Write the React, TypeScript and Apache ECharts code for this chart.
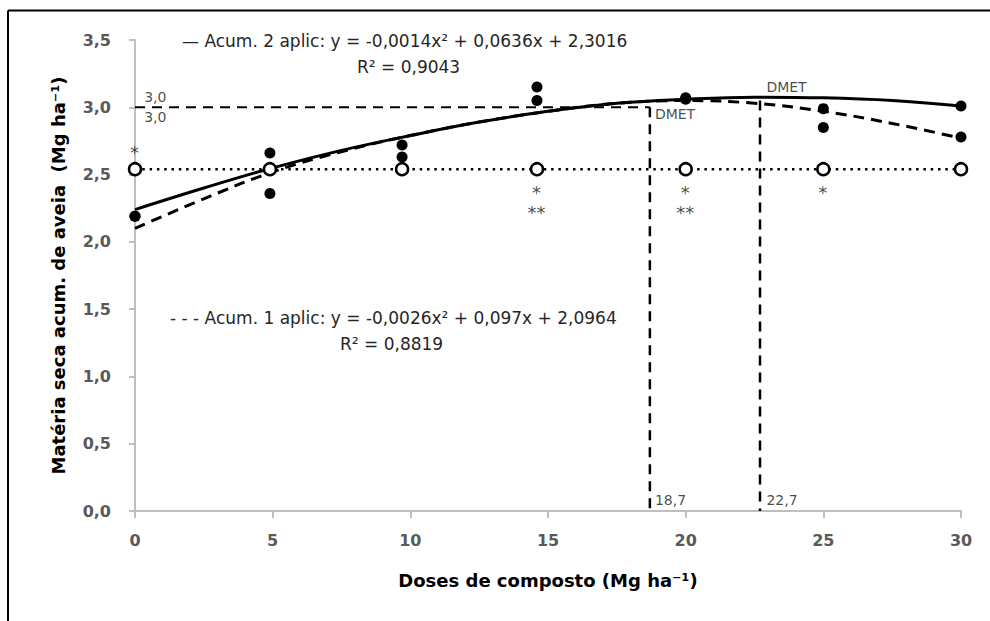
import React, { useEffect, useRef } from 'react';
import * as echarts from 'echarts';

// Observed doses (Mg ha-1)
const doses = [0, 4.9, 9.7, 14.6, 20, 25, 30];
// Observed dry matter (filled dots)
const acum2Obs = [2.19, 2.66, 2.72, 3.15, 3.07, 2.99, 3.01];
const acum1Obs = [2.19, 2.36, 2.63, 3.05, 3.06, 2.85, 2.78];
// Reference (open circles, dotted line)
const refLevel = [2.54, 2.54, 2.54, 2.54, 2.54, 2.54, 2.54];
// Fitted curves
const fitX = [0, 2.5, 5, 7.5, 10, 12.5, 15, 17.5, 20, 22.5, 25, 27.5, 30];
const fitAcum2 = [2.24, 2.4, 2.55, 2.68, 2.79, 2.89, 2.97, 3.03, 3.06, 3.075, 3.07, 3.05, 3.01];
const fitAcum1 = [2.1, 2.32, 2.52, 2.67, 2.79, 2.89, 2.97, 3.03, 3.05, 3.03, 2.97, 2.88, 2.77];
// DMET (dose of maximum technical efficiency)
const dmetX = [18.7, 22.7];
const dmetTop = [3.0, 3.05];
const maxLevel = 3.0;

// Annotations (data coordinates)
const annotations = [
  { x: 0, y: 2.66, text: '*', align: 'center', size: 18 },
  { x: 14.6, y: 2.36, text: '*', align: 'center', size: 18 },
  { x: 14.6, y: 2.215, text: '**', align: 'center', size: 18 },
  { x: 20, y: 2.36, text: '*', align: 'center', size: 18 },
  { x: 20, y: 2.215, text: '**', align: 'center', size: 18 },
  { x: 25, y: 2.36, text: '*', align: 'center', size: 18 },
  { x: 0.35, y: 3.075, text: '3,0', align: 'left', size: 14 },
  { x: 0.35, y: 2.925, text: '3,0', align: 'left', size: 14 },
  { x: 18.9, y: 2.95, text: 'DMET', align: 'left', size: 14 },
  { x: 22.95, y: 3.15, text: 'DMET', align: 'left', size: 14 },
  { x: 18.9, y: 0.08, text: '18,7', align: 'left', size: 14 },
  { x: 22.95, y: 0.08, text: '22,7', align: 'left', size: 14 },
];

const eq2 = '— Acum. 2 aplic: y = -0,0014x² + 0,0636x + 2,3016';
const r2a = 'R² = 0,9043';
const eq1 = '- - - Acum. 1 aplic: y = -0,0026x² + 0,097x + 2,0964';
const r2b = 'R² = 0,8819';

const FONT = 'DejaVu Sans';
const fmt = (v: number) => v.toFixed(1).replace('.', ',');

export default function App() {
  const ref = useRef<HTMLDivElement>(null);
  useEffect(() => {
    const chart = echarts.init(ref.current!, null, { renderer: 'svg' });
    const axisColor = '#bfbfbf';
    const eqStyle = { fontSize: 17, fontFamily: FONT, fill: '#262626', verticalAlign: 'middle', align: 'left' };
    const option: any = {
      animation: false,
      backgroundColor: '#fff',
      textStyle: { fontFamily: FONT },
      grid: { left: 135, right: 29, top: 40, bottom: 110 },
      xAxis: {
        type: 'value',
        min: 0,
        max: 30,
        interval: 5,
        splitLine: { show: false },
        axisLine: { show: true, lineStyle: { color: axisColor, width: 2 } },
        axisTick: { show: true, length: 7, lineStyle: { color: axisColor, width: 2 } },
        axisLabel: { color: '#595959', fontWeight: 'bold', fontSize: 16, fontFamily: FONT, margin: 21 },
        name: 'Doses de composto (Mg ha⁻¹)',
        nameLocation: 'middle',
        nameGap: 60,
        nameTextStyle: { color: '#000', fontWeight: 'bold', fontSize: 18, fontFamily: FONT },
      },
      yAxis: {
        type: 'value',
        min: 0,
        max: 3.5,
        interval: 0.5,
        splitLine: { show: false },
        axisLine: { show: true, lineStyle: { color: axisColor, width: 2 } },
        axisTick: { show: true, length: 6, lineStyle: { color: axisColor, width: 2 } },
        axisLabel: { color: '#595959', fontWeight: 'bold', fontSize: 16, fontFamily: FONT, margin: 24, formatter: fmt },
        name: 'Matéria seca acum. de aveia  (Mg ha⁻¹)',
        nameLocation: 'middle',
        nameGap: 68,
        nameRotate: 90,
        nameTextStyle: { color: '#000', fontWeight: 'bold', fontSize: 18, fontFamily: FONT },
      },
      graphic: [
        { type: 'line', shape: { x1: 8, y1: 10.5, x2: 990, y2: 10.5 }, style: { stroke: '#000', lineWidth: 2 } },
        { type: 'line', shape: { x1: 8, y1: 10.5, x2: 8, y2: 621 }, style: { stroke: '#000', lineWidth: 2 } },
        { type: 'text', x: 182, y: 41, style: { ...eqStyle, text: eq2 } },
        { type: 'text', x: 357, y: 67, style: { ...eqStyle, text: r2a } },
        { type: 'text', x: 170, y: 318, style: { ...eqStyle, text: eq1 } },
        { type: 'text', x: 340, y: 344, style: { ...eqStyle, text: r2b } },
      ],
      series: [
        {
          name: 'maxLine',
          type: 'line',
          data: [[0, maxLevel], [dmetX[0], maxLevel]],
          symbol: 'none',
          lineStyle: { color: '#000', width: 2, type: [10, 7] },
          z: 2,
        },
        ...dmetX.map((dx, i) => ({
          name: 'dmet' + i,
          type: 'line',
          data: [[dx, dmetTop[i]], [dx, 0]],
          symbol: 'none',
          lineStyle: { color: '#000', width: 2.5, type: [10, 7] },
          z: 2,
        })),
        {
          name: 'Acum. 2 aplic (fit)',
          type: 'line',
          smooth: 0.4,
          data: fitX.map((x, i) => [x, fitAcum2[i]]),
          symbol: 'none',
          lineStyle: { color: '#000', width: 3 },
          z: 3,
        },
        {
          name: 'Acum. 1 aplic (fit)',
          type: 'line',
          smooth: 0.4,
          data: fitX.map((x, i) => [x, fitAcum1[i]]),
          symbol: 'none',
          lineStyle: { color: '#000', width: 3, type: [11, 7] },
          z: 3,
        },
        {
          name: 'ref',
          type: 'line',
          data: doses.map((x, i) => [x, refLevel[i]]),
          symbol: 'circle',
          symbolSize: 12,
          showSymbol: true,
          itemStyle: { color: '#fff', borderColor: '#000', borderWidth: 2.5, opacity: 1 },
          lineStyle: { color: '#000', width: 2.5, type: [2.5, 4.8] },
          z: 4,
        },
        {
          name: 'Acum. 2 aplic',
          type: 'scatter',
          data: doses.map((x, i) => [x, acum2Obs[i]]),
          symbol: 'circle',
          symbolSize: 11,
          itemStyle: { color: '#000', opacity: 1 },
          z: 5,
        },
        {
          name: 'Acum. 1 aplic',
          type: 'scatter',
          data: doses.map((x, i) => [x, acum1Obs[i]]),
          symbol: 'circle',
          symbolSize: 11,
          itemStyle: { color: '#000', opacity: 1 },
          z: 5,
        },
        {
          name: 'annotations',
          type: 'scatter',
          silent: true,
          symbolSize: 1,
          itemStyle: { color: 'rgba(0,0,0,0)' },
          data: annotations.map((a) => ({
            value: [a.x, a.y],
            label: {
              show: true,
              position: [0, 0],
              formatter: a.text,
              align: a.align,
              verticalAlign: 'middle',
              fontSize: a.size,
              lineHeight: a.size,
              fontFamily: FONT,
              color: '#1a1a1a',
            },
          })),
          z: 6,
        },
      ],
    };
    chart.setOption(option);
    return () => chart.dispose();
  }, []);
  return (
    <div
      ref={ref}
      style={{ position: 'absolute', left: 0, top: 0, width: 990, height: 621, background: '#fff' }}
    />
  );
}
